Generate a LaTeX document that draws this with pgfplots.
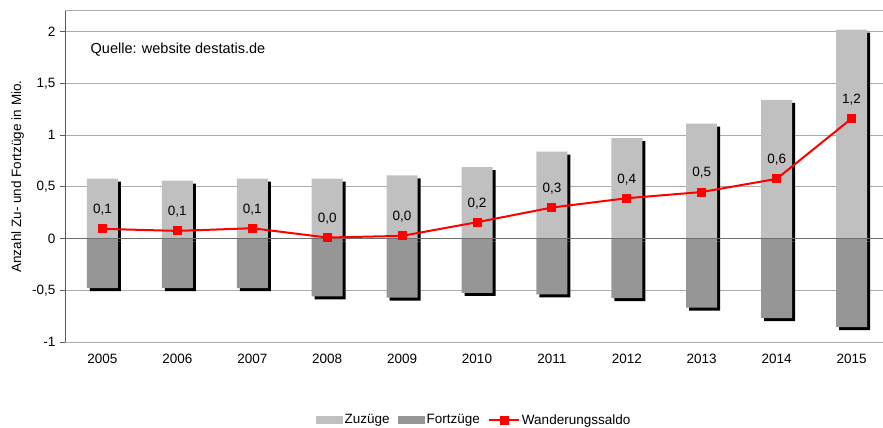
\documentclass[border=0pt]{standalone}
\usepackage{fontspec}
\setmainfont{Liberation Sans}
\usepackage{pgfplots}
\usepackage{pgfplotstable}
\pgfplotsset{compat=1.18}

\definecolor{zuzug}{HTML}{C0C0C0}
\definecolor{fortzug}{HTML}{969696}
\definecolor{gridgray}{HTML}{ABABAB}
\definecolor{zerogray}{HTML}{6E6E6E}
\definecolor{axisgray}{HTML}{5A5A5A}

\pgfplotsset{
  boxlegend/.style={legend image code/.code={\fill[##1] (0bp,-4bp) rectangle (27bp,4bp);}},
  salegend/.style={legend image code/.code={%
     \draw[##1, mark=none] (0bp,0bp) -- (30bp,0bp);
     \draw[##1] plot coordinates {(15bp,0bp)};}},
}

% Jahr (0 = 2005), Zuzuege, Fortzuege, Saldo, Beschriftung
\pgfplotstableread{
x zu fort saldo lab
0 0.58 -0.48 0.094 0,1
1 0.56 -0.48 0.074 0,1
2 0.58 -0.48 0.100 0,1
3 0.58 -0.56 0.010 0,0
4 0.61 -0.57 0.026 0,0
5 0.69 -0.525 0.158 0,2
6 0.84 -0.54 0.300 0,3
7 0.97 -0.577 0.390 0,4
8 1.11 -0.667 0.450 0,5
9 1.34 -0.77 0.577 0,6
10 2.02 -0.857 1.160 1,2
}\wanderung

\begin{document}
\fontsize{13.5bp}{16bp}\selectfont
\begin{tikzpicture}
\begin{axis}[
  scale only axis,
  width=818bp, height=331bp,
  xmin=-0.5, xmax=10.42,
  ymin=-1, ymax=2.2,
  xtick={0,...,10},
  xticklabels={2005,2006,2007,2008,2009,2010,2011,2012,2013,2014,2015},
  ytick={-1,-0.5,0,0.5,1,1.5,2},
  /pgf/number format/use comma,
  /pgf/number format/assume math mode=true,
  yticklabel={\pgfmathprintnumber{\tick}},
  ymajorgrids,
  grid style={gridgray, line width=1bp},
  axis line style={draw=none},
  tick align=outside,
  major tick length=5bp,
  ytick style={axisgray, line width=1bp},
  xtick style={draw=none},
  xticklabel style={yshift=-2bp},
  ylabel={Anzahl Zu- und Fortzüge in Mio.},
  ylabel style={yshift=-1bp},
  legend columns=-1,
  legend style={at={(0.5,0)}, anchor=center, yshift=-78.3bp, draw=none,
    fill=none, /tikz/every even column/.append style={column sep=7bp},
    nodes={inner sep=1.5bp}},
]
% Schatten
\addplot[ybar, bar width=31bp, bar shift=0pt, fill=black, draw=none,
  xshift=3bp, yshift=-3bp, forget plot] table[x=x, y=zu] {\wanderung};
\addplot[ybar, bar width=31bp, bar shift=0pt, fill=black, draw=none,
  xshift=3bp, yshift=-3bp, forget plot] table[x=x, y=fort] {\wanderung};
% Balken
\addplot[ybar, bar width=31bp, bar shift=0pt, fill=zuzug, draw=none, boxlegend]
  table[x=x, y=zu] {\wanderung};
\addlegendentry{Zuzüge}
\addplot[ybar, bar width=31bp, bar shift=0pt, fill=fortzug, draw=none, boxlegend]
  table[x=x, y=fort] {\wanderung};
\addlegendentry{Fortzüge}
% Linien
\draw[zerogray, line width=1bp] (axis cs:-0.5,0) -- (axis cs:10.42,0);
\draw[gridgray, line width=1bp] (rel axis cs:0,1) -- (rel axis cs:1,1);
\draw[axisgray, line width=1.5bp] (rel axis cs:0,0) -- (rel axis cs:0,1);
% Saldo
\addplot[red, line width=2bp, mark=square*, mark size=3.5bp,
  mark options={solid},
  point meta=explicit symbolic,
  nodes near coords,
  every node near coord/.append style={anchor=center, yshift=19bp, black},
  salegend]
  table[x=x, y=saldo, meta=lab] {\wanderung};
\addlegendentry{Wanderungssaldo}
\node[anchor=west, inner sep=0pt, font=\fontsize{14.5bp}{17bp}\selectfont]
  at (axis cs:-0.16,1.826) {Quelle: website destatis.de};
\coordinate (sw) at (rel axis cs:0,0);
\coordinate (ne) at (rel axis cs:1,1);
\end{axis}
\pgfresetboundingbox
\path ([shift={(-65bp,-85.3bp)}]sw) rectangle ([shift={(0bp,11bp)}]ne);
\end{tikzpicture}
\end{document}
